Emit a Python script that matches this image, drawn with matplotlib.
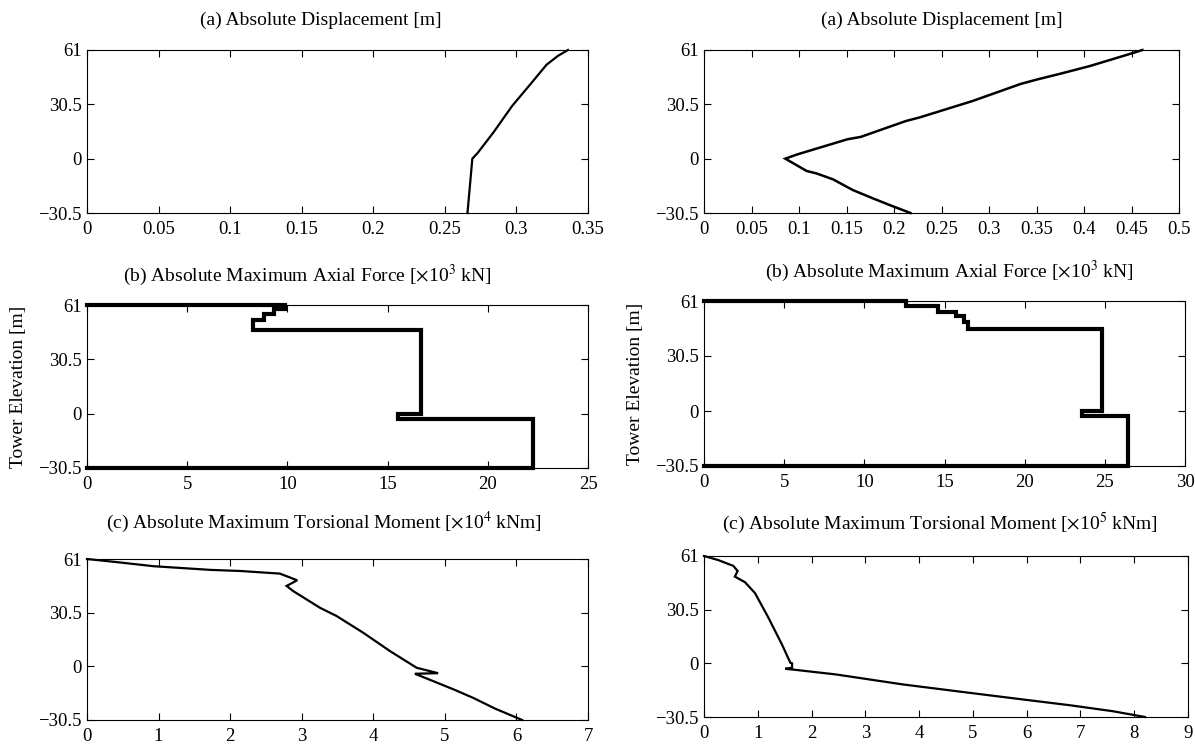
import numpy as np
import matplotlib
matplotlib.use('Agg')
import matplotlib.pyplot as plt

plt.rcParams['font.family'] = 'serif'
plt.rcParams['font.serif'] = ['Liberation Serif', 'DejaVu Serif']
plt.rcParams['mathtext.fontset'] = 'stix'
plt.rcParams['axes.unicode_minus'] = True

# elevation ticks shared by all panels
elev_ticks = [-30.5, 0, 30.5, 61]

# (a) absolute displacement, left / right tower
disp_left_x = [0.2658, 0.2692, 0.273, 0.284, 0.297, 0.3105, 0.321, 0.329, 0.336]
disp_left_y = [-30.5, 0.0, 3.3, 14.8, 29.6, 42.5, 52.7, 57.7, 61.0]
disp_right_x = [0.2173, 0.1948, 0.1774, 0.1566, 0.1358, 0.1185, 0.108, 0.0856,
                0.0976, 0.1511, 0.1649, 0.2129, 0.2267, 0.2611, 0.2818, 0.3336,
                0.351, 0.3752, 0.4062, 0.4477, 0.4615]
disp_right_y = [-30.5, -25.9, -22.2, -17.6, -11.6, -8.3, -6.9, 0.0,
                2.3, 10.9, 12.2, 21.2, 23.1, 28.8, 32.2, 42.0,
                44.5, 47.7, 52.0, 58.7, 61.0]

# (b) axial force step outlines
axial_left_x = [0, 9.9, 9.9, 9.33, 9.33, 8.82, 8.82, 8.29, 8.29, 16.67, 16.67,
                15.52, 15.52, 22.25, 22.25, 0]
axial_left_y = [61, 61, 58.8, 58.8, 56.0, 56.0, 52.7, 52.7, 46.7, 46.7, 0.0,
                0.0, -2.8, -2.8, -30.5, -30.5]
axial_right_x = [0, 12.57, 12.57, 14.58, 14.58, 15.69, 15.69, 16.23, 16.23, 16.47,
                 16.47, 24.85, 24.85, 23.6, 23.6, 26.43, 26.43, 0]
axial_right_y = [61, 61, 58.4, 58.4, 55.1, 55.1, 52.5, 52.5, 49.2, 49.2,
                 45.5, 45.5, 0.0, 0.0, -2.5, -2.5, -30.5, -30.5]

# (c) torsional moment
tors_left_x = [0, 0.4, 0.93, 1.73, 2.137, 2.695, 2.937, 2.789, 2.88, 3.254, 3.487,
               3.859, 4.232, 4.605, 4.906, 4.581, 5.116, 5.4, 5.7, 6.08]
tors_left_y = [61, 59.3, 56.9, 54.8, 54.2, 52.7, 48.9, 45.7, 42.8, 33.3, 28.6,
               19.1, 8.7, -0.8, -3.9, -4.2, -13.0, -18.0, -24.0, -30.5]
tors_right_x = [0, 0.263, 0.544, 0.625, 0.574, 0.762, 0.949, 1.2, 1.45, 1.606, 1.638,
                1.638, 1.51, 1.70, 2.45, 3.70, 5.0, 6.0, 6.8, 7.6, 8.2]
tors_right_y = [61, 58.7, 55.4, 52.5, 49.3, 46.1, 39.9, 25.8, 10.7, 0.3, 0.0,
                -2.5, -3.1, -3.7, -6.3, -12.0, -17.0, -20.8, -23.8, -27.2, -30.5]

titles_left = ['(a) Absolute Displacement [m]',
               r'(b) Absolute Maximum Axial Force [$\times$10$^3$ kN]',
               r'(c) Absolute Maximum Torsional Moment [$\times$10$^4$ kNm]']
titles_right = ['(a) Absolute Displacement [m]',
                r'(b) Absolute Maximum Axial Force [$\times$10$^3$ kN]',
                r'(c) Absolute Maximum Torsional Moment [$\times$10$^5$ kNm]']

fig = plt.figure(figsize=(11.95, 7.44), dpi=100)
W, H = 1195, 744


def make_ax(left, top, right, bottom):
    return fig.add_axes([left / W, 1 - bottom / H, (right - left) / W, (bottom - top) / H])


panels = [
    # (box px), x data, y data, xlim, xticks, xticklabels, title, title x, title pad, linewidth, ylabel
    ((87, 50, 588, 213), disp_left_x, disp_left_y, 0.35,
     np.arange(0, 0.351, 0.05), ['0', '0.05', '0.1', '0.15', '0.2', '0.25', '0.3', '0.35'],
     titles_left[0], 0.467, 18, 1.6, False),
    ((704, 50, 1179, 213), disp_right_x, disp_right_y, 0.5,
     np.arange(0, 0.501, 0.05), ['0', '0.05', '0.1', '0.15', '0.2', '0.25', '0.3', '0.35',
                                 '0.4', '0.45', '0.5'],
     titles_right[0], 0.5, 18, 1.8, False),
    ((87, 305, 588, 468), axial_left_x, axial_left_y, 25,
     np.arange(0, 26, 5), None, titles_left[1], 0.44, 17, 3.0, True),
    ((704, 301, 1185, 466), axial_right_x, axial_right_y, 30,
     np.arange(0, 31, 5), None, titles_right[1], 0.51, 17, 3.0, True),
    ((87, 559, 588, 720), tors_left_x, tors_left_y, 7,
     np.arange(0, 8, 1), None, titles_left[2], 0.473, 22, 1.6, False),
    ((704, 556, 1188, 717), tors_right_x, tors_right_y, 9,
     np.arange(0, 10, 1), None, titles_right[2], 0.487, 19, 1.6, False),
]

for box, xs, ys, xmax, xt, xtl, title, tx, tpad, lw, ylab in panels:
    ax = make_ax(*box)
    ax.plot(xs, ys, color='black', linewidth=lw, solid_joinstyle='miter', clip_on=False)
    ax.set_xlim(0, xmax)
    ax.set_ylim(-30.5, 61)
    ax.set_xticks(xt)
    if xtl is not None:
        ax.set_xticklabels(xtl)
    ax.set_yticks(elev_ticks)
    ax.set_yticklabels(['\u221230.5', '0', '30.5', '61'])
    ax.tick_params(direction='in', top=True, right=True, length=5, width=0.8,
                   labelsize=13.5)
    ax.tick_params(axis='x', pad=6)
    ax.tick_params(axis='y', pad=4)
    for sp in ax.spines.values():
        sp.set_linewidth(0.8)
    ax.set_title(title, fontsize=14, pad=tpad, x=tx)
    if ylab:
        ax.set_ylabel('Tower Elevation [m]', fontsize=14, labelpad=8)

fig.savefig('out.png', dpi=100)
